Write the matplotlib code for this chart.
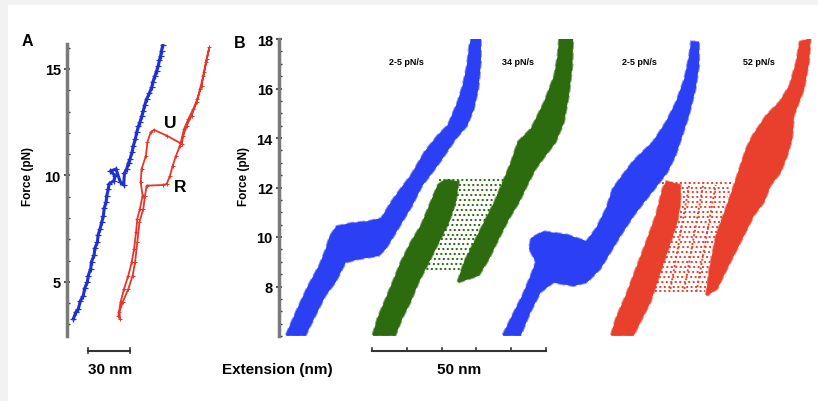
import matplotlib.pyplot as plt
from matplotlib.patches import Rectangle

plt.rcParams['font.family'] = ['Liberation Sans', 'DejaVu Sans']
plt.rcParams['font.weight'] = 'bold'

# ---------------- Panel A: single pulling cycle (extension nm, force pN)
a_blue_x = [4.5, 6.5, 8.1, 9.5, 11.7, 12.6, 14.5, 15.2, 16.9, 17.5, 19.3, 20.0, 21.7, 22.2,
            23.6, 24.8, 26.0, 26.5, 27.9, 28.4, 29.5, 30.0, 33.5, 34.3, 31.0, 35.0, 38.0,
            40.5, 41.0, 42.6, 44.0, 45.0, 46.5, 47.4, 48.8, 49.8, 51.0, 52.1, 53.5, 54.5,
            55.5, 56.9, 58.8, 60.5, 61.4, 62.9, 64.0, 65.2, 66.0, 66.9, 67.5, 68.3]
a_blue_f = [3.26, 3.6, 3.73, 4.1, 4.36, 4.7, 4.98, 5.3, 5.61, 5.95, 6.24, 6.6, 6.86, 7.2,
            7.49, 7.8, 8.11, 8.45, 8.74, 9.05, 9.37, 9.6, 9.75, 9.99, 10.2, 10.3, 9.7,
            9.55, 10.1, 10.3, 10.6, 10.77, 11.1, 11.4, 11.7, 12.03, 12.3, 12.5, 12.8, 13.04,
            13.3, 13.59, 13.85, 14.14, 14.4, 14.69, 14.9, 15.16, 15.4, 15.63, 15.85, 16.1]

a_red_x = [36.7, 38.3, 40.7, 43.8, 46.2, 47.9, 49.3, 50.2, 52.1, 54.0, 52.6, 53.3, 56.4,
           57.4, 59.8, 62.1, 71.2, 81.9, 83.1, 85.5, 89.0, 92.6, 95.0, 97.4, 99.3, 101.7,
           99.8, 97.9, 96.2, 93.1, 90.2, 86.7, 83.6, 80.7, 77.9, 75.5, 73.6, 71.2, 68.8,
           56.9, 55.7, 54.5, 51.7, 50.2, 48.6, 46.9, 43.8, 39.8, 37.4, 37.9]
a_red_f = [3.42, 4.05, 4.67, 5.30, 5.92, 6.55, 7.33, 7.96, 8.43, 9.05, 9.68, 10.31, 10.93,
           11.56, 12.03, 12.14, 11.87, 11.48, 11.87, 12.34, 12.81, 13.44, 14.06, 14.69, 15.31,
           16.02, 15.47, 14.84, 14.22, 13.59, 13.12, 12.65, 12.18, 11.40, 10.93, 10.46, 9.99,
           9.60, 9.55, 9.52, 9.05, 8.43, 7.80, 6.86, 5.92, 5.30, 4.67, 4.05, 3.58, 3.26]

# ---------------- Panel B: overlaid traces drawn as outlines of each trace bundle
blue1_x = [2.2, 5.1, 8.4, 11.8, 13.7, 14.7, 16.6, 20.9, 25.7, 29.5, 32.4, 35.2, 38.1, 42.0,
           45.8, 48.7, 51.5, 53.0, 54.2, 54.9, 55.4, 57.8, 57.8, 57.1, 55.8, 53.9, 50.6,
           46.7, 43.9, 41.0, 38.1, 35.2, 32.9, 30.5, 28.5, 22.8, 19.0, 16.1, 13.2, 10.3, 7.5]
blue1_f = [6.04, 6.98, 7.98, 8.86, 9.53, 10.0, 10.41, 10.54, 10.61, 10.74, 11.41, 11.95,
           12.49, 13.43, 14.10, 14.51, 15.45, 16.12, 16.92, 17.73, 18.0, 18.0, 17.06, 16.0,
           15.18, 14.51, 13.97, 13.16, 12.62, 12.09, 11.28, 10.61, 10.07, 9.53, 9.26, 9.13,
           8.99, 8.19, 7.65, 6.84, 6.04]

green_fold_x = [27.1, 28.5, 30.5, 32.9, 35.2, 38.1, 41.0, 43.4, 45.8, 47.7, 51.5, 50.6,
                48.7, 45.8, 42.9, 40.0, 37.6, 35.2, 33.3]
green_fold_f = [6.04, 6.71, 7.38, 8.19, 8.99, 9.80, 10.47, 11.28, 12.09, 12.29, 12.22,
                11.41, 10.61, 9.80, 8.99, 8.19, 7.38, 6.71, 6.04]
green_unf_x = [51.5, 53.4, 56.3, 59.2, 62.1, 64.9, 66.9, 68.8, 72.6, 76.4, 79.3, 80.3, 80.7,
               84.3, 84.1, 83.1, 81.7, 79.3, 76.4, 73.6, 71.6, 68.8, 65.9, 63.0, 60.2, 57.3]
green_unf_f = [8.19, 8.99, 9.80, 10.61, 11.41, 12.35, 13.03, 13.83, 14.37, 15.45, 16.52,
               17.33, 18.0, 18.0, 16.92, 15.72, 14.64, 13.83, 13.30, 12.76, 12.22, 11.41,
               10.74, 9.94, 9.13, 8.46]
green_jump_f = [12.3, 12.1, 11.9, 11.7, 11.5, 11.3, 11.1, 10.9, 10.7, 10.5, 10.3, 10.1,
                9.9, 9.7, 9.5, 9.3, 9.1, 8.9, 8.7]
green_jump_x0 = [46, 46.5, 46.5, 46, 45.5, 45, 44.5, 44, 43.5, 43, 42.5, 42, 41.5, 41,
                 40.5, 40, 39.5, 39, 38.5]
green_jump_x1 = [65.5, 65, 64, 63.5, 62.5, 62, 61.5, 60.5, 60, 59, 58.5, 57.5, 57, 56,
                 55.5, 54.5, 54, 53, 52]

blue2_x = [64.5, 67.3, 70.2, 72.6, 74.0, 72.1, 72.6, 76.0, 82.7, 88.4, 91.3, 94.2, 96.1,
           98.9, 101.8, 103.7, 107.6, 111.4, 114.3, 116.7, 118.1, 118.6, 120.5, 120.5, 119.5,
           117.6, 115.7, 113.8, 111.4, 108.5, 104.7, 101.8, 98.0, 95.1, 92.2, 88.4, 84.6,
           78.8, 75.0, 72.1, 69.3]
blue2_f = [6.04, 6.84, 7.65, 8.46, 8.99, 9.53, 9.94, 10.20, 10.07, 9.80, 10.34, 11.15,
           11.95, 12.49, 13.03, 13.30, 13.83, 14.64, 15.45, 16.39, 17.33, 17.87, 17.87, 16.92,
           15.98, 14.91, 14.10, 13.30, 12.62, 12.09, 11.41, 10.88, 10.07, 9.40, 8.73, 8.19,
           8.05, 8.19, 7.78, 6.98, 6.04]

red_fold_x = [95.6, 97.0, 99.9, 102.8, 105.7, 108.5, 110.4, 111.4, 115.2, 115.2, 114.3,
              112.4, 110.4, 108.5, 106.6, 103.7, 101.8]
red_fold_f = [6.04, 6.71, 7.65, 8.73, 9.80, 10.88, 11.95, 12.22, 12.09, 11.41, 10.61, 9.80,
              8.99, 8.19, 7.38, 6.58, 6.04]
red_unf_x = [122.9, 123.9, 125.8, 128.6, 130.6, 132.5, 134.4, 136.3, 140.2, 144.0, 146.9,
             148.8, 149.8, 152.6, 152.1, 150.7, 147.8, 147.3, 145.9, 144.0, 141.1, 139.2,
             136.3, 134.4, 131.5, 128.6, 125.8]
red_unf_f = [7.65, 8.73, 10.07, 11.15, 11.95, 12.76, 13.56, 14.10, 14.91, 15.45, 16.12,
             17.06, 17.87, 18.0, 17.06, 15.98, 14.91, 13.97, 13.30, 12.62, 12.09, 11.41,
             10.88, 10.34, 9.53, 8.73, 7.92]
red_jump_f = [12.2, 12.0, 11.8, 11.6, 11.4, 11.2, 11.0, 10.8, 10.6, 10.4, 10.2, 10.0, 9.8,
              9.6, 9.4, 9.2, 9.0, 8.8, 8.6, 8.4, 8.2, 8.0, 7.8]
red_jump_x0 = [110, 110.5, 111, 111, 111, 110.5, 110, 110, 109.5, 109, 108.5, 108, 107.5,
               107, 106.5, 106, 105.5, 105, 104.5, 104, 103.5, 103, 103]
red_jump_x1 = [130.5, 130, 129.5, 129, 128.5, 128.2, 127.8, 127.3, 126.8, 126.4, 126, 125.6,
               125.2, 124.8, 124.5, 124.2, 124, 123.7, 123.4, 123.2, 123, 122.8, 122.5]
# slanted dotted columns inside the red transition region
red_col_x0 = [112.5, 116.5, 120.0]
red_col_x1 = [118.0, 122.0, 125.5]
red_col_f0 = [7.9, 7.9, 7.8]
red_col_f1 = [12.2, 12.2, 12.1]

rate_labels = ['2-5 pN/s', '34 pN/s', '2-5 pN/s', '52 pN/s']
rate_label_x = [36.5, 68.7, 103.7, 137.9]

blue_a = '#1f30d0'
red_a = '#e8352a'
blue_b = '#2b40f5'
green_b = '#2d6b0f'
red_b = '#e8402c'


def style_axis(ax):
    for side in ['top', 'right', 'bottom']:
        ax.spines[side].set_visible(False)
    ax.spines['left'].set_color('#7a7a7a')
    ax.spines['left'].set_linewidth(2.5)
    ax.set_xticks([])
    ax.tick_params(axis='y', which='major', direction='inout', length=5, width=1.2,
                   color='#333333', labelsize=10.5, pad=2)
    ax.tick_params(axis='y', which='minor', direction='in', length=2.5, width=1,
                   color='#333333')
    for lab in ax.get_yticklabels():
        lab.set_fontweight('bold')
    ax.patch.set_alpha(0)


fig = plt.figure(figsize=(8.18, 4.02), dpi=100, facecolor='#f2f2f2')
fig.patches.append(Rectangle((8 / 818, 0), 1, 1 - 6 / 402, transform=fig.transFigure,
                             facecolor='white', edgecolor='none', zorder=-10))

# Panel A
axA = fig.add_axes([67 / 818, 65 / 402, 148 / 818, 292 / 402])
axA.plot(a_red_x, a_red_f, color=red_a, lw=1.3, marker='+', ms=3, mew=0.7)
axA.plot(a_blue_x, a_blue_f, color=blue_a, lw=2.2, marker='+', ms=4, mew=0.9)
axA.set_xlim(0, 105.7)
axA.set_ylim(2.46, 16.17)
axA.set_yticks([5, 10, 15])
axA.set_yticks(range(3, 17), minor=True)
style_axis(axA)
axA.text(73.6, 12.5, 'U', fontsize=12.5, fontweight='bold', ha='center', va='center')
axA.text(80.7, 9.5, 'R', fontsize=12.5, fontweight='bold', ha='center', va='center')
# 30 nm scale bar
axA.plot([15, 45], [1.76, 1.76], color='#333333', lw=1.5, clip_on=False)
axA.plot([15, 15], [1.66, 1.9], color='#333333', lw=1.2, clip_on=False)
axA.plot([45, 45], [1.66, 1.9], color='#333333', lw=1.2, clip_on=False)
axA.text(30.7, 0.92, '30 nm', fontsize=11, fontweight='bold', ha='center', va='center')

# Panel B
axB = fig.add_axes([279 / 818, 65 / 402, 539 / 818, 297 / 402])
bundles = [(blue1_x, blue1_f, blue_b), (green_fold_x, green_fold_f, green_b),
           (green_unf_x, green_unf_f, green_b), (blue2_x, blue2_f, blue_b),
           (red_fold_x, red_fold_f, red_b), (red_unf_x, red_unf_f, red_b)]
for xs, fs, c in bundles:
    # loose trace loops at the rim, then the dense core
    axB.fill(xs, fs, facecolor='none', edgecolor=c, lw=2.6, alpha=0.55,
             ls=(0, (2, 1)))
    axB.fill(xs, fs, color=c, lw=1.2, edgecolor=c)
for f, x0, x1 in zip(green_jump_f, green_jump_x0, green_jump_x1):
    axB.plot([x0, x1], [f, f], color=green_b, lw=1.4, ls=(0, (1, 1.3)))
for f, x0, x1 in zip(red_jump_f, red_jump_x0, red_jump_x1):
    axB.plot([x0, x1], [f, f], color=red_b, lw=1.4, ls=(0, (1, 1.3)))
for x0, x1, f0, f1 in zip(red_col_x0, red_col_x1, red_col_f0, red_col_f1):
    axB.plot([x0, x1], [f0, f1], color=red_b, lw=1.4, ls=(0, (1, 1.3)))
axB.set_xlim(0, 154.9)
axB.set_ylim(6, 18)
axB.set_yticks([8, 10, 12, 14, 16, 18])
axB.set_yticks([6 + 0.5 * i for i in range(25)], minor=True)
style_axis(axB)
for lab, x in zip(rate_labels, rate_label_x):
    axB.text(x, 17.11, lab, fontsize=6.5, fontweight='bold', ha='center', va='center')
# 50 nm scale bar with 10 nm ticks
axB.plot([26.7, 76.7], [5.39, 5.39], color='#333333', lw=1.5, clip_on=False)
for t in [26.7, 36.7, 46.7, 56.7, 66.7, 76.7]:
    axB.plot([t, t], [5.39, 5.5], color='#333333', lw=1.2, clip_on=False)
axB.text(51.7, 4.67, '50 nm', fontsize=11, fontweight='bold', ha='center', va='center')

# Figure labels
fig.text(27 / 818, 1 - 42 / 402, 'A', fontsize=11.5, fontweight='bold', ha='center', va='center')
fig.text(240 / 818, 1 - 44 / 402, 'B', fontsize=11.5, fontweight='bold', ha='center', va='center')
fig.text(28 / 818, 1 - 177 / 402, 'Force (pN)', fontsize=8.5, fontweight='bold',
         rotation=90, ha='center', va='center')
fig.text(244 / 818, 1 - 177 / 402, 'Force (pN)', fontsize=8.5, fontweight='bold',
         rotation=90, ha='center', va='center')
fig.text(277 / 818, 1 - 370 / 402, 'Extension (nm)', fontsize=11, fontweight='bold',
         ha='center', va='center')

plt.savefig('out.png', dpi=100, facecolor=fig.get_facecolor())
